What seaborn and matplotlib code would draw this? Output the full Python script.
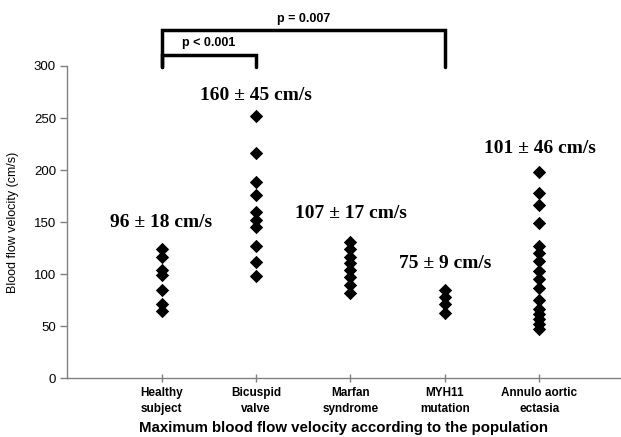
import matplotlib
matplotlib.use("Agg")
import matplotlib.pyplot as plt
import seaborn as sns
import pandas as pd

# ---- data ----
categories = ["Healthy\nsubject", "Bicuspid\nvalve", "Marfan\nsyndrome", "MYH11\nmutation", "Annulo aortic\nectasia"]
healthy = [124, 117, 104, 99, 85, 71, 65]
bicuspid = [252, 216, 189, 176, 160, 152, 145, 127, 112, 98]
marfan = [131, 124, 117, 111, 104, 97, 90, 82]
myh11 = [85, 78, 71, 63]
annulo = [198, 178, 167, 149, 127, 120, 113, 103, 95, 87, 75, 67, 62, 57, 52, 47]
summaries = ["96 ± 18 cm/s", "160 ± 45 cm/s", "107 ± 17 cm/s", "75 ± 9 cm/s", "101 ± 46 cm/s"]
summary_y = [150, 272, 158, 110, 221]
yticks = [0, 50, 100, 150, 200, 250, 300]

groups = [healthy, bicuspid, marfan, myh11, annulo]
df = pd.DataFrame({
    "group": [c for c, g in zip(categories, groups) for _ in g],
    "velocity": [v for g in groups for v in g],
})

sns.set_theme(style="white")
plt.rcParams["font.family"] = ["Liberation Sans", "DejaVu Sans"]
plt.rcParams["text.color"] = "black"
plt.rcParams["axes.labelcolor"] = "black"
plt.rcParams["xtick.color"] = "black"
plt.rcParams["ytick.color"] = "black"

fig = plt.figure(figsize=(6.21, 4.37), dpi=100)
ax = fig.add_axes([0.108, 0.134, 0.890, 0.715])

sns.stripplot(data=df, x="group", y="velocity", order=categories, jitter=False,
              marker="D", size=6.8, color="black", linewidth=0, ax=ax)

ax.set_ylim(0, 300)
ax.set_xlim(-1.0, 4.85)
ax.set_yticks(yticks)
ax.set_yticklabels([str(t) for t in yticks], fontsize=9.5)
ax.set_xticks(range(len(categories)))
ax.set_xticklabels(categories, fontsize=8.5, fontweight="bold", linespacing=1.5)

for s in ["top", "right"]:
    ax.spines[s].set_visible(False)
for s in ["left", "bottom"]:
    ax.spines[s].set_color("#808080")
    ax.spines[s].set_linewidth(1.0)

ax.tick_params(axis="y", direction="out", length=5, width=1, color="#808080",
               labelcolor="black", pad=3, left=True)
ax.tick_params(axis="x", direction="inout", length=6, width=1, color="#808080",
               labelcolor="black", pad=3, bottom=True)

ax.set_ylabel("Blood flow velocity (cm/s)", fontsize=9)
ax.yaxis.set_label_coords(-0.087, 0.5)
ax.set_xlabel("Maximum blood flow velocity according to the population", fontsize=10.8,
              fontweight="bold")
ax.xaxis.set_label_coords(0.5, -0.135)

for i, (txt, y) in enumerate(zip(summaries, summary_y)):
    ax.text(i, y, txt, ha="center", va="center", fontsize=14, fontweight="bold",
            family=["Liberation Serif", "DejaVu Serif"], color="black", clip_on=False)

# significance brackets
ax.plot([0, 0, 3, 3], [299, 335, 335, 299], color="black", lw=2.5, clip_on=False,
        solid_joinstyle="miter")
ax.plot([0, 0, 1, 1], [299, 311, 311, 299], color="black", lw=2.5, clip_on=False,
        solid_joinstyle="miter")
ax.text(1.5, 345, "p = 0.007", ha="center", va="center", fontsize=9, fontweight="bold", clip_on=False)
ax.text(0.5, 322, "p < 0.001", ha="center", va="center", fontsize=9, fontweight="bold", clip_on=False)

fig.savefig("out.png", dpi=100)
